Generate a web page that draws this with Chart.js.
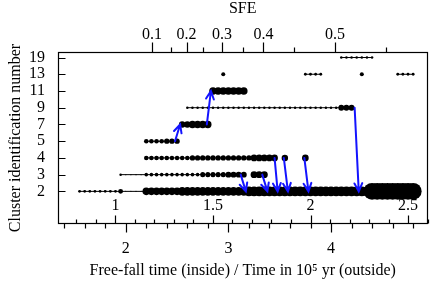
<!DOCTYPE html>
<html><head><meta charset="utf-8">
<script src="https://cdn.jsdelivr.net/npm/chart.js@4.4.0/dist/chart.umd.min.js"></script>
<style>html,body{margin:0;padding:0;background:#fff}canvas{display:block}</style>
</head><body>
<canvas id="c" width="436" height="285"></canvas>
<script>
// ---------------- data ----------------
const clusterIds = [2, 3, 4, 5, 7, 9, 11, 13, 19];
const snapshotTimes = [1.55,1.60,1.65,1.70,1.75,1.80,1.85,1.90,1.95,2.00,2.05,2.10,2.15,2.20,2.25,2.30,2.35,2.40,2.45,2.50,2.55,2.60,2.65,2.70,2.75,2.80,2.85,2.90,2.95,3.00,3.05,3.10,3.15,3.20,3.25,3.30,3.35,3.40,3.45,3.50,3.55,3.60,3.65,3.70,3.75,3.80,3.85,3.90,3.95,4.00,4.05,4.10,4.15,4.20,4.25,4.30,4.35,4.40,4.45,4.50,4.55,4.60,4.65,4.70,4.75,4.80];
// runs per cluster: [first time, last time, mass (arbitrary units)]
const cluster2Runs  = [[1.55,1.90,0.5],[1.95,1.95,1.5],[2.00,2.15,0.1],[2.20,2.50,3.6],[2.55,3.15,4.6],[3.20,4.35,6.2],[4.40,4.80,18]];
const cluster3Runs  = [[1.95,1.95,0.4],[2.00,2.15,0.1],[2.20,2.70,0.8],[2.75,2.95,1.6],[3.00,3.15,2.2],[3.25,3.35,3.0]];
const cluster4Runs  = [[2.20,2.60,1.3],[2.65,3.20,1.8],[3.25,3.45,2.8],[3.55,3.55,2.6],[3.75,3.75,2.8]];
const cluster5Runs  = [[2.20,2.35,1.3],[2.40,2.50,1.8]];
const cluster7Runs  = [[2.55,2.60,2.6],[2.65,2.80,3.4]];
const cluster9Runs  = [[2.60,4.05,0.4],[4.10,4.20,2.2]];
const cluster11Runs = [[2.85,3.15,3.6]];
const cluster13Runs = [[2.95,2.95,1.0],[3.75,3.90,0.5],[4.30,4.30,1.0],[4.65,4.80,0.5]];
const cluster19Runs = [[4.10,4.40,0.4]];
// merger arrows: [from time, from cluster, to time, to cluster]
const mergeArrows = [[2.48,5,2.53,7],[2.79,7,2.83,11],[3.12,3,3.17,2],[3.33,3,3.38,2],[3.45,4,3.48,2],[3.54,4,3.58,2],[3.74,4,3.78,2],[4.23,9,4.27,2]];
// axes
const timeRange = [1.34, 4.94];
const timeLabels = [2, 3, 4];
const timeMinorStep = 0.2;
const freeFallLabels = [1, 1.5, 2, 2.5];
const timePerFreeFall = 1.9;
const sfeLabels = [0.1, 0.2, 0.3, 0.4, 0.5];
const sfeLabelTimes = [2.256, 2.593, 2.937, 3.342, 4.039];
const sfeMinorTimes = [2.443, 2.748, 3.140, 3.644, 4.537];

// ---------------- build ----------------
const allRuns = [cluster2Runs, cluster3Runs, cluster4Runs, cluster5Runs, cluster7Runs, cluster9Runs, cluster11Runs, cluster13Runs, cluster19Runs];
function buildRow(runs, idx) {
  return snapshotTimes.map(t => {
    const run = runs.find(r => t >= r[0] - 1e-6 && t <= r[1] + 1e-6);
    return run ? {x: t, y: idx, m: run[2]} : {x: t, y: null};
  });
}
const massToRadius = m => 2 * Math.sqrt(m);
const datasets = allRuns.map((runs, i) => ({
  data: buildRow(runs, i),
  borderColor: '#000',
  borderWidth: 1,
  backgroundColor: '#000',
  pointBackgroundColor: '#000',
  pointBorderWidth: 0,
  pointRadius: c => (c.raw && c.raw.m) ? massToRadius(c.raw.m) : 0,
  pointHoverRadius: c => (c.raw && c.raw.m) ? massToRadius(c.raw.m) : 0,
  spanGaps: false,
  tension: 0
}));

const SERIF = "'Liberation Serif', 'DejaVu Serif', serif";
const idxOf = id => clusterIds.indexOf(id);

const overlay = {
  id: 'overlay',
  afterDatasetsDraw(chart) {
    const {ctx, scales: {x, y}} = chart;
    ctx.save();
    ctx.strokeStyle = '#1414ff';
    ctx.lineWidth = 2;
    ctx.lineCap = 'round';
    mergeArrows.forEach(([t0, c0, t1, c1]) => {
      const x0 = x.getPixelForValue(t0), y0 = y.getPixelForValue(idxOf(c0));
      const x1 = x.getPixelForValue(t1), y1 = y.getPixelForValue(idxOf(c1));
      const ang = Math.atan2(y1 - y0, x1 - x0);
      const hl = 9, ha = 0.45;
      ctx.beginPath();
      ctx.moveTo(x0, y0); ctx.lineTo(x1, y1);
      ctx.moveTo(x1 - hl * Math.cos(ang - ha), y1 - hl * Math.sin(ang - ha));
      ctx.lineTo(x1, y1);
      ctx.lineTo(x1 - hl * Math.cos(ang + ha), y1 - hl * Math.sin(ang + ha));
      ctx.stroke();
    });
    ctx.restore();
  },
  afterDraw(chart) {
    const {ctx, chartArea: a, scales: {x, y}} = chart;
    ctx.save();
    ctx.strokeStyle = '#000';
    ctx.lineWidth = 1.2;
    const L = Math.round(a.left) + 0.5, R = Math.round(a.right) - 0.5;
    const T = Math.round(a.top) + 0.5, B = Math.round(a.bottom) - 0.5;
    ctx.strokeRect(L, T, R - L, B - T);
    ctx.beginPath();
    // outer bottom ticks (time)
    for (let k = Math.ceil(timeRange[0] / timeMinorStep); k * timeMinorStep <= timeRange[1]; k++) {
      const v = Math.round(k * timeMinorStep * 100) / 100;
      const px = Math.round(x.getPixelForValue(v)) + 0.5;
      const major = Math.abs(v - Math.round(v)) < 1e-6;
      ctx.moveTo(px, B); ctx.lineTo(px, B + (major ? 9 : 5));
    }
    // inner bottom ticks (free-fall time)
    for (let k = Math.ceil(timeRange[0] / timePerFreeFall * 10); k / 10 * timePerFreeFall <= timeRange[1]; k++) {
      const px = Math.round(x.getPixelForValue(k / 10 * timePerFreeFall)) + 0.5;
      const major = k % 5 === 0;
      ctx.moveTo(px, B); ctx.lineTo(px, B - (major ? 8 : 4));
    }
    // y ticks (inward)
    clusterIds.forEach((_, i) => {
      const py = Math.round(y.getPixelForValue(i)) + 0.5;
      ctx.moveTo(L, py); ctx.lineTo(L + 7, py);
    });
    // top SFE ticks
    sfeLabelTimes.forEach(t => { const px = Math.round(x.getPixelForValue(t)) + 0.5; ctx.moveTo(px, T); ctx.lineTo(px, T - 10); });
    sfeMinorTimes.forEach(t => { const px = Math.round(x.getPixelForValue(t)) + 0.5; ctx.moveTo(px, T); ctx.lineTo(px, T - 5); });
    ctx.stroke();
    // inner free-fall labels
    ctx.fillStyle = '#000';
    ctx.font = '16px ' + SERIF;
    ctx.textAlign = 'center';
    ctx.textBaseline = 'middle';
    freeFallLabels.forEach(v => ctx.fillText(String(v), x.getPixelForValue(v * timePerFreeFall), a.bottom - 18));
    ctx.restore();
  }
};

new Chart(document.getElementById('c'), {
  type: 'line',
  data: {datasets},
  options: {
    responsive: false,
    animation: false,
    events: [],
    devicePixelRatio: 1,
    layout: {padding: {left: 0, right: 4, top: 0, bottom: 0}},
    plugins: {legend: {display: false}, tooltip: {enabled: false}},
    scales: {
      x: {
        type: 'linear', position: 'bottom', min: timeRange[0], max: timeRange[1],
        grid: {display: false}, border: {display: false},
        afterBuildTicks: s => { s.ticks = timeLabels.map(v => ({value: v})); },
        afterFit: s => { s.height = 61; },
        ticks: {color: '#000', font: {family: SERIF, size: 16}, padding: 7, maxRotation: 0, autoSkip: false},
        title: {display: true, text: 'Free-fall time (inside) / Time in 10\u2075 yr (outside)', color: '#000',
                font: {family: SERIF, size: 16}, padding: {top: 0, bottom: 5}}
      },
      xTop: {
        type: 'linear', position: 'top', min: timeRange[0], max: timeRange[1],
        grid: {display: false}, border: {display: false},
        afterBuildTicks: s => { s.ticks = sfeLabelTimes.map(v => ({value: v})); },
        afterFit: s => { s.height = 52; },
        ticks: {color: '#000', font: {family: SERIF, size: 16}, padding: 0, maxRotation: 0, autoSkip: false,
                callback: (v, i) => String(sfeLabels[i])},
        title: {display: true, text: 'SFE', color: '#000', font: {family: SERIF, size: 16, lineHeight: 1.1}, padding: {top: 0, bottom: 0}}
      },
      y: {
        type: 'linear', min: -1.95, max: 8.33,
        grid: {display: false}, border: {display: false},
        afterBuildTicks: s => { s.ticks = clusterIds.map((_, i) => ({value: i})); },
        afterFit: s => { s.width = 58; },
        ticks: {color: '#000', font: {family: SERIF, size: 16}, padding: 5, autoSkip: false,
                callback: v => String(clusterIds[v])},
        title: {display: true, text: 'Cluster identification number', color: '#000',
                font: {family: SERIF, size: 16}, padding: {top: 6, bottom: 0}}
      }
    }
  },
  plugins: [overlay]
});
</script>
</body></html>
